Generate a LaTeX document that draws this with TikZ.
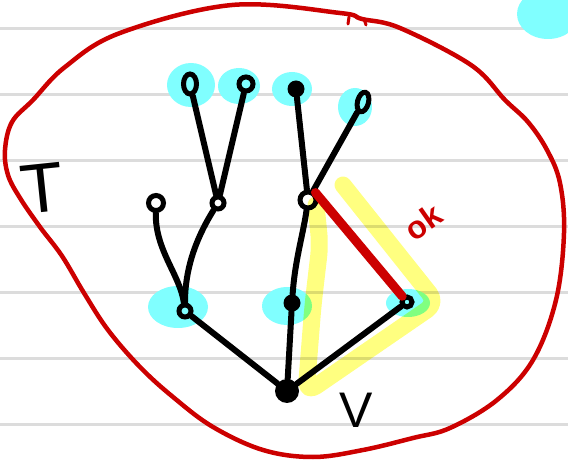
\documentclass[tikz,border=0pt]{standalone}
\usepackage{fontspec}
\setmainfont{Liberation Sans}
\usetikzlibrary{shapes.geometric}
\definecolor{inkred}{RGB}{204,0,0}
\definecolor{hlcyan}{RGB}{128,255,255}
\definecolor{hlyellow}{RGB}{255,255,128}
\definecolor{ruling}{RGB}{220,220,220}
\begin{document}
\begin{tikzpicture}[x=1pt,y=-1pt,
  ruleline/.style={ruling, line width=3pt},
  setline/.style={inkred, line width=4.5pt, line cap=round, line join=round},
  branch/.style={black, line width=6pt, line cap=round},
  ring/.style={circle, draw=black, line width=5pt, inner sep=0pt, minimum size=#1},
  blackdot/.style={circle, fill=black, inner sep=0pt, minimum size=#1},
  loopnode/.style={ellipse, draw=black, line width=5pt, inner sep=0pt},
  hand/.style={font=\fontsize{#1}{#1}\selectfont, inner sep=0pt},
]
% paper and its ruling
\fill[white] (0,0) rectangle (568,462);
\useasboundingbox (0,0) rectangle (568,462);
\foreach \yy in {29,95,161,227,293,359,425}
  \draw[ruleline] (0,\yy) -- (568,\yy);

% the set T
\draw[setline] plot[smooth cycle, tension=0.6] coordinates {
  (33,100) (12,122) (5,150) (8,175) (20,198) (40,227) (62,256) (84,293)
  (108,330) (140,367) (173,397) (213,427) (263,450) (313,457) (363,450)
  (413,438) (450,428) (497,400) (533,360) (556,300) (564,233) (560,183)
  (547,150) (528,122) (505,100) (471,65) (400,28) (362,19) (340,13)
  (232,5) (120,33) (65,67)};
\draw[setline, line width=3pt] (349,17) -- (348,24);
\draw[setline, line width=3pt] (364,19) -- (366,25);

% cyan marks
\fill[hlcyan] (548,14) ellipse [x radius=31pt, y radius=25pt];
\fill[hlcyan] (191,85) ellipse [x radius=24pt, y radius=22pt];
\fill[hlcyan] (239,86) ellipse [x radius=21pt, y radius=18pt];
\fill[hlcyan] (292,89) ellipse [x radius=20pt, y radius=17pt];
\fill[hlcyan] (355,107) ellipse [x radius=17pt, y radius=19pt];
\fill[hlcyan] (178,307) ellipse [x radius=30pt, y radius=21pt];
\fill[hlcyan] (287,306) ellipse [x radius=25pt, y radius=19pt];
\fill[hlcyan] (408,303) ellipse [x radius=22pt, y radius=14pt];

% yellow triangle
\begin{scope}[blend mode=multiply]
  \draw[hlyellow, line width=17pt, line cap=round, line join=round, rounded corners=12pt]
    (343,185) -- (437,303) -- (306,393) -- (313,305) -- (320,245) -- (316,205);
\end{scope}

% tree nodes
\node[blackdot=24pt] (V) at (287,391) {};
\node[ring=12pt] (A) at (185,311) {};
\node[blackdot=17pt] (B) at (292,303) {};
\node[ring=10pt] (C) at (407,302) {};
\node[ring=15pt] (D) at (156,203) {};
\node[ring=12pt] (E) at (218,203) {};
\node[ring=16pt] (F) at (308,200) {};
\node[loopnode, minimum width=13pt, minimum height=20pt] (G) at (190,84) {};
\node[ring=14pt] (H) at (246,84) {};
\node[blackdot=17pt] (I) at (296,89) {};
\node[loopnode, minimum width=11pt, minimum height=20pt, rotate=-15] (J) at (363,102) {};

% tree edges
\draw[branch] (V) -- (A);
\draw[branch] (V) -- (B);
\draw[branch] (V) -- (C);
\draw[branch] (D) .. controls (155,250) and (180,275) .. (A);
\draw[branch] (E) .. controls (195,240) and (185,270) .. (A);
\draw[branch] (B) .. controls (295,260) and (303,235) .. (F);
\draw[branch] (E) -- (G);
\draw[branch] (E) -- (H);
\draw[branch] (F) -- (I);
\draw[branch] (F) -- (J);
\draw[inkred, line width=9pt, line cap=round] (F.north east) -- (C);

% labels
\node[hand=70, rotate=6] (Tlbl) at (42,188) {T};
\node[hand=50] (Vlbl) at (356,410) {V};
\node[hand=32, text=inkred, rotate=35] (oklbl) at (423,222) {\bfseries ok};
\end{tikzpicture}
\end{document}
